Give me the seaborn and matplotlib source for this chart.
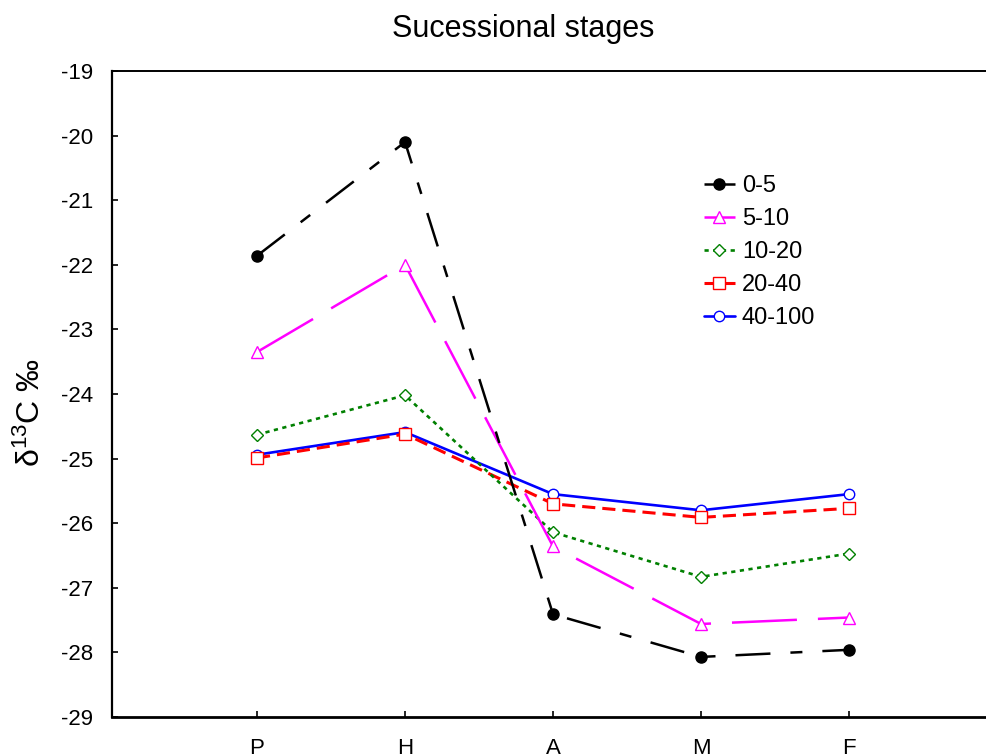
import matplotlib
matplotlib.use("Agg")
import matplotlib.pyplot as plt
import seaborn as sns
import pandas as pd

stages = ["P", "H", "A", "M", "F"]
depths = ["0-5", "5-10", "10-20", "20-40", "40-100"]
d0_5 = [-21.86, -20.10, -27.41, -28.07, -27.96]
d5_10 = [-23.35, -22.00, -26.36, -27.56, -27.46]
d10_20 = [-24.63, -24.02, -26.14, -26.83, -26.47]
d20_40 = [-24.99, -24.62, -25.70, -25.91, -25.77]
d40_100 = [-24.94, -24.59, -25.55, -25.80, -25.55]
yticks = list(range(-29, -18))

series = [d0_5, d5_10, d10_20, d20_40, d40_100]

sns.set_style("ticks")
plt.rcParams["font.family"] = ["Liberation Sans", "DejaVu Sans"]
plt.rcParams["text.color"] = "black"
plt.rcParams["axes.labelcolor"] = "black"
plt.rcParams["xtick.color"] = "black"
plt.rcParams["ytick.color"] = "black"
plt.rcParams["mathtext.fontset"] = "custom"
plt.rcParams["mathtext.rm"] = "Liberation Sans"
plt.rcParams["mathtext.it"] = "Liberation Sans:italic"
plt.rcParams["mathtext.bf"] = "Liberation Sans:bold"

W, H = 986, 754
fig = plt.figure(figsize=(W / 100, H / 100), dpi=100)
unit = 148.0
xl, xr = -0.98, 4.95
ax = fig.add_axes([112 / W, 37 / H, (xr - xl) * unit / W, (717 - 71) / H])

styles = {
    "0-5": dict(color="black", marker="o", ms=8, mfc="black", mew=1.0, lw=1.8,
                ls=(0, (14.0, 8.0, 4.8, 8.0)), z=2.5),
    "5-10": dict(color="#ff00ff", marker="^", ms=8.5, mfc="white", mew=1.0, lw=1.8,
                 ls=(0, (26.0, 8.4)), z=2.4),
    "10-20": dict(color="#008000", marker="D", ms=6, mfc="white", mew=1.0, lw=1.9,
                  ls=(0, (1.6, 1.7)), z=2.3),
    "20-40": dict(color="#ff0000", marker="s", ms=8, mfc="white", mew=1.0, lw=2.2,
                  ls=(0, (4.3, 2.3)), z=2.2),
    "40-100": dict(color="#0000ff", marker="o", ms=7.5, mfc="white", mew=1.0, lw=1.9,
                   ls="-", z=2.1),
}

for name, vals in zip(depths, series):
    st = styles[name]
    df = pd.DataFrame({"stage": stages, "d13C": vals})
    sns.lineplot(data=df, x="stage", y="d13C", ax=ax, errorbar=None, sort=False,
                 label=name)
    line = ax.lines[-1]
    line.set_color(st["color"])
    line.set_linewidth(st["lw"])
    line.set_linestyle(st["ls"])
    line.set_marker(st["marker"])
    line.set_markersize(st["ms"])
    line.set_markerfacecolor(st["mfc"])
    line.set_markeredgecolor(st["color"])
    line.set_markeredgewidth(st["mew"])
    line.set_zorder(st["z"])

ax.set_xlim(xl, xr)
ax.set_ylim(-29, -19)
ax.set_yticks(yticks)
ax.set_yticklabels([str(v) for v in yticks])
ax.set_xlabel("")
ax.set_ylabel("")
ax.tick_params(axis="both", direction="in", length=4, width=1.2, labelsize=16,
               color="black", labelcolor="black")
ax.tick_params(axis="x", pad=15)
ax.tick_params(axis="y", pad=13.5)
for s in ["left", "bottom", "top"]:
    ax.spines[s].set_visible(True)
    ax.spines[s].set_color("black")
ax.spines["left"].set_linewidth(1.6)
ax.spines["bottom"].set_linewidth(2.0)
ax.spines["top"].set_linewidth(1.4)
ax.spines["right"].set_visible(False)

leg = ax.legend(loc="upper left", bbox_to_anchor=(704 / W, 1 - 175 / H),
                bbox_transform=fig.transFigure, frameon=False, fontsize=17,
                handlelength=1.3, handletextpad=0.3, labelspacing=0.47,
                borderpad=0, borderaxespad=0)
for t in leg.get_texts():
    t.set_color("black")

fig.text(523 / W, 1 - 37 / H, "Sucessional stages", ha="center", va="baseline",
         fontsize=22, color="black")
fig.text(31 / W, 1 - 412 / H, r"$\mathrm{\delta}^{\mathrm{13}}$C ‰", rotation=90,
         ha="center", va="center", fontsize=23, color="black")

fig.savefig("out.png", dpi=100)
